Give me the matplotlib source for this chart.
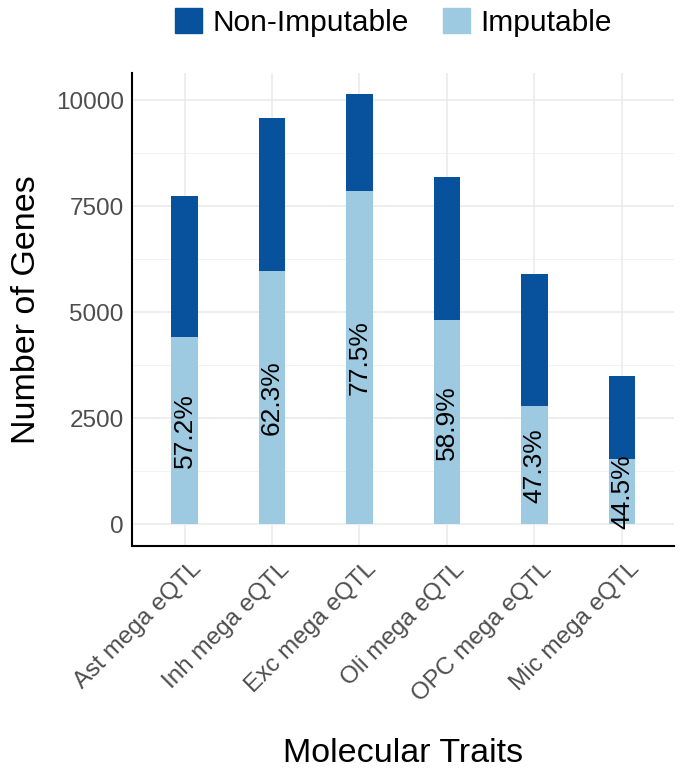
import matplotlib
matplotlib.use('Agg')
import matplotlib.pyplot as plt
import matplotlib.transforms as mtransforms
import numpy as np
from matplotlib.patches import Patch

plt.rcParams['font.family'] = ['Liberation Sans', 'DejaVu Sans']

# Data
traits = ['Ast mega eQTL', 'Inh mega eQTL', 'Exc mega eQTL',
          'Oli mega eQTL', 'OPC mega eQTL', 'Mic mega eQTL']
total_genes = [7736, 9575, 10142, 8184, 5896, 3491]
pct_imputable = [57.2, 62.3, 77.5, 58.9, 47.3, 44.5]

dark_blue = '#08519c'
light_blue = '#9ecae1'

total = np.array(total_genes)
imputable = total * np.array(pct_imputable) / 100
non_imputable = total - imputable
x = np.arange(1, len(traits) + 1)

fig = plt.figure(figsize=(6.84, 7.8), dpi=100)
ax = fig.add_axes([0.193, 0.3, 0.793, 0.607])

# grid like theme_minimal
for yv in np.arange(1250, 10001, 2500):
    ax.axhline(yv, color='#f0f0f0', lw=0.6, zorder=0)
for yv in np.arange(0, 10001, 2500):
    ax.axhline(yv, color='#ebebeb', lw=1.2, zorder=0)
for xv in x:
    ax.axvline(xv, color='#ebebeb', lw=1.2, zorder=0)

ax.bar(x, imputable, width=0.3, color=light_blue, zorder=2)
ax.bar(x, non_imputable, width=0.3, bottom=imputable, color=dark_blue, zorder=2)

for xi, imp, p in zip(x, imputable, pct_imputable):
    ax.text(xi, imp / 2, f'{p}%', rotation=90, ha='center', va='center',
            fontsize=19, color='black', zorder=3)

ax.set_xlim(0.4, 6.6)
ymax = total.max()
ax.set_ylim(-0.05 * ymax, ymax * 1.05)
ax.set_yticks([0, 2500, 5000, 7500, 10000])
ax.set_xticks(x)
ax.set_xticklabels([])
# rotated category labels, drawn by hand so they can be nudged like ggplot's
lab_trans = mtransforms.offset_copy(ax.get_xaxis_transform(), fig=fig,
                                    x=6, y=-12, units='dots')
for xi, name in zip(x, traits):
    ax.text(xi, 0, name, transform=lab_trans, rotation=45, ha='right',
            va='top', rotation_mode='anchor', fontsize=17.5, color='#4d4d4d')
ax.tick_params(axis='y', labelsize=17.5, labelcolor='#4d4d4d', length=0, pad=6)
ax.tick_params(axis='x', length=0)

for s in ['top', 'right']:
    ax.spines[s].set_visible(False)
for s in ['left', 'bottom']:
    ax.spines[s].set_linewidth(1.5)
    ax.spines[s].set_color('black')

ax.set_ylabel('Number of Genes', fontsize=24.5, labelpad=10)
ax.text(0.5, 0.034, 'Molecular Traits', ha='center', va='center', fontsize=24.5,
        transform=mtransforms.blended_transform_factory(ax.transAxes, fig.transFigure))

handles = [Patch(color=dark_blue, label='Non-Imputable'),
           Patch(color=light_blue, label='Imputable')]
fig.legend(handles=handles, loc='upper center', bbox_to_anchor=(0.575, 1.024),
           ncol=2, frameon=False, fontsize=21.5, handlelength=0.92,
           handleheight=0.92, columnspacing=1.15, handletextpad=0.33)

plt.savefig('out.png', dpi=100)
